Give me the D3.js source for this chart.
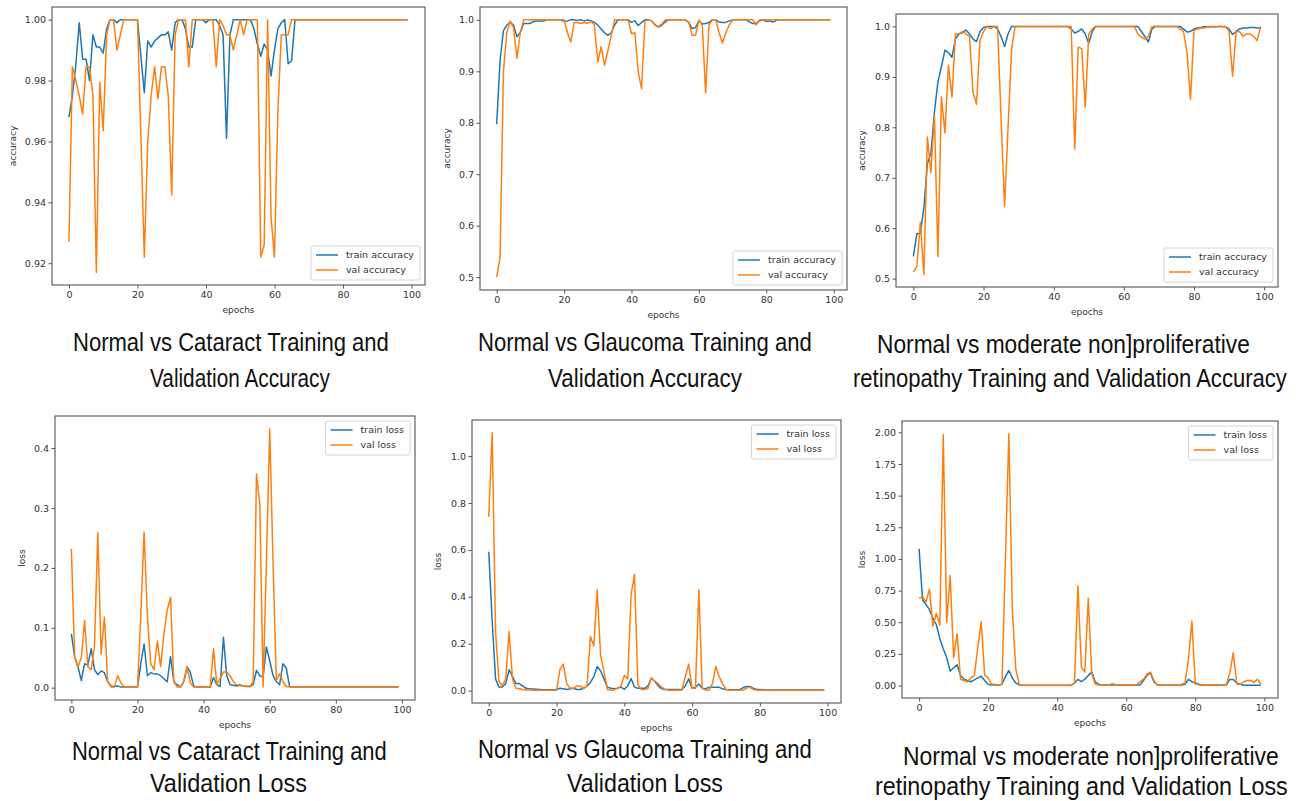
<!DOCTYPE html>
<html><head><meta charset="utf-8">
<script src="https://cdn.jsdelivr.net/npm/d3@7"></script>
<style>
body{margin:0;background:#fff;}
svg{display:block;}
</style></head><body>
<svg id="chart" width="1302" height="801"></svg>
<script>
// ---------------- data ----------------
const epochs = d3.range(0, 100);
const xTickValues = [0, 20, 40, 60, 80, 100];

const catAccTrain = [
0.968,0.975,0.985,0.999,0.987,0.987,0.980,0.995,0.991,0.991,
0.989,0.997,1.0,1.0,0.999,1.0,1.0,1.0,1.0,1.0,
1.0,0.988,0.976,0.993,0.991,0.993,0.994,0.995,0.995,0.996,
0.990,0.999,1.0,1.0,0.997,0.991,0.991,1.0,1.0,1.0,
0.999,1.0,1.0,1.0,0.998,0.995,0.961,0.995,1.0,1.0,
1.0,1.0,1.0,1.0,0.997,0.992,0.988,0.992,0.990,0.9815,
0.990,0.997,0.999,1.0,0.9855,0.9865,1.0,1.0,1.0,1.0,
1.0,1.0,1.0,1.0,1.0,1.0,1.0,1.0,1.0,1.0,
1.0,1.0,1.0,1.0,1.0,1.0,1.0,1.0,1.0,1.0,
1.0,1.0,1.0,1.0,1.0,1.0,1.0,1.0,1.0,1.0];
const catAccVal = [
0.927,0.9845,0.980,0.975,0.969,0.9845,0.9845,0.975,0.917,0.9795,
0.9635,0.995,1.0,1.0,0.990,0.995,1.0,1.0,1.0,1.0,
1.0,0.962,0.922,0.960,0.975,0.9845,0.974,0.9845,0.9845,0.975,
0.9425,0.995,1.0,1.0,1.0,0.9845,1.0,1.0,1.0,1.0,
1.0,1.0,1.0,0.9845,1.0,0.998,0.995,0.995,0.990,0.995,
1.0,0.995,1.0,1.0,1.0,1.0,0.922,0.926,1.0,0.935,
0.922,0.970,0.995,0.995,0.995,1.0,1.0,1.0,1.0,1.0,
1.0,1.0,1.0,1.0,1.0,1.0,1.0,1.0,1.0,1.0,
1.0,1.0,1.0,1.0,1.0,1.0,1.0,1.0,1.0,1.0,
1.0,1.0,1.0,1.0,1.0,1.0,1.0,1.0,1.0,1.0];

const glauAccTrain = [
0.797,0.921,0.979,0.990,0.995,0.990,0.967,0.975,0.993,0.993,
0.993,0.997,0.998,0.998,0.998,1.0,1.0,1.0,1.0,1.0,
0.997,0.998,1.0,1.0,0.999,1.0,0.998,1.0,0.998,0.995,
0.990,0.982,0.975,0.970,0.975,0.990,1.0,1.0,1.0,1.0,
0.995,0.998,0.989,0.995,1.0,1.0,0.998,0.990,0.986,0.990,
0.996,1.0,1.0,1.0,1.0,1.0,1.0,0.995,0.983,0.985,
0.998,0.992,0.993,0.995,1.0,1.0,0.996,0.995,0.995,0.998,
1.0,1.0,1.0,1.0,1.0,0.996,0.993,0.993,0.998,1.0,
0.997,0.998,0.996,0.999,1.0,1.0,1.0,1.0,1.0,1.0,
1.0,1.0,1.0,1.0,1.0,1.0,1.0,1.0,1.0,1.0];
const glauAccVal = [
0.500,0.538,0.899,0.975,0.998,0.985,0.925,0.975,1.0,1.0,
1.0,1.0,1.0,1.0,1.0,1.0,1.0,1.0,1.0,1.0,
1.0,0.975,0.957,0.995,0.995,0.993,0.995,0.993,0.997,0.990,
0.918,0.948,0.912,0.940,0.970,1.0,1.0,1.0,1.0,1.0,
0.973,0.975,0.899,0.866,0.998,1.0,0.998,0.990,0.987,0.992,
1.0,1.0,1.0,1.0,1.0,1.0,1.0,0.995,0.970,0.970,
1.0,0.990,0.858,0.990,1.0,1.0,0.975,0.955,0.975,0.990,
1.0,1.0,1.0,1.0,1.0,1.0,1.0,0.990,1.0,1.0,
1.0,1.0,1.0,1.0,1.0,1.0,1.0,1.0,1.0,1.0,
1.0,1.0,1.0,1.0,1.0,1.0,1.0,1.0,1.0,1.0];

const npdrAccTrain = [
0.544,0.589,0.590,0.640,0.728,0.748,0.830,0.890,0.920,0.953,
0.948,0.939,0.975,0.985,0.988,0.993,0.985,0.975,0.970,0.990,
0.998,1.0,1.0,1.0,0.995,0.980,0.960,0.985,1.0,1.0,
1.0,1.0,1.0,1.0,1.0,1.0,1.0,1.0,1.0,1.0,
1.0,1.0,1.0,1.0,1.0,0.995,0.987,0.990,0.995,0.985,
0.966,0.990,1.0,1.0,1.0,1.0,1.0,1.0,1.0,1.0,
1.0,1.0,1.0,1.0,1.0,0.990,0.980,0.969,0.995,1.0,
1.0,1.0,1.0,1.0,1.0,1.0,1.0,0.995,0.989,0.990,
0.995,0.997,0.998,1.0,0.999,1.0,0.999,1.0,1.0,0.999,
0.995,0.984,0.990,0.995,0.997,0.997,0.998,0.998,0.997,0.997];
const npdrAccVal = [
0.513,0.525,0.612,0.508,0.781,0.710,0.824,0.544,0.860,0.789,
0.923,0.860,0.985,0.985,0.990,0.985,0.980,0.870,0.8455,0.972,
0.990,1.0,0.995,1.0,1.0,0.820,0.643,0.800,0.955,1.0,
1.0,1.0,1.0,1.0,1.0,1.0,1.0,1.0,1.0,1.0,
1.0,1.0,1.0,1.0,1.0,1.0,0.757,0.959,0.956,0.840,
0.985,0.995,1.0,1.0,1.0,1.0,1.0,1.0,1.0,1.0,
1.0,1.0,1.0,1.0,0.985,0.979,0.975,0.980,1.0,1.0,
1.0,1.0,1.0,1.0,1.0,1.0,0.995,0.990,0.950,0.855,
0.992,0.995,0.997,0.997,1.0,1.0,1.0,1.0,1.0,1.0,
0.990,0.901,0.989,0.990,0.980,0.985,0.985,0.980,0.972,1.0];

const catLossTrain = [
0.090,0.051,0.035,0.012,0.040,0.038,0.065,0.030,0.022,0.028,
0.025,0.010,0.003,0.002,0.003,0.001,0.001,0.001,0.001,0.001,
0.001,0.040,0.073,0.020,0.025,0.023,0.023,0.020,0.015,0.010,
0.052,0.010,0.005,0.001,0.010,0.035,0.025,0.003,0.001,0.001,
0.001,0.001,0.001,0.017,0.005,0.002,0.084,0.020,0.005,0.004,
0.003,0.004,0.003,0.002,0.002,0.005,0.029,0.020,0.018,0.068,
0.045,0.020,0.010,0.005,0.040,0.033,0.002,0.001,0.001,0.001,
0.001,0.001,0.001,0.001,0.001,0.001,0.001,0.001,0.001,0.001,
0.001,0.001,0.001,0.001,0.001,0.001,0.001,0.001,0.001,0.001,
0.001,0.001,0.001,0.001,0.001,0.001,0.001,0.001,0.001,0.001];
const catLossVal = [
0.232,0.051,0.035,0.050,0.112,0.035,0.030,0.070,0.259,0.056,
0.118,0.010,0.001,0.001,0.020,0.008,0.001,0.001,0.001,0.001,
0.001,0.120,0.260,0.120,0.040,0.030,0.078,0.035,0.090,0.130,
0.151,0.010,0.001,0.001,0.010,0.034,0.008,0.001,0.001,0.001,
0.001,0.001,0.001,0.065,0.005,0.015,0.026,0.026,0.020,0.010,
0.005,0.005,0.003,0.003,0.002,0.010,0.357,0.307,0.001,0.210,
0.432,0.210,0.012,0.023,0.010,0.002,0.001,0.001,0.001,0.001,
0.001,0.001,0.001,0.001,0.001,0.001,0.001,0.001,0.001,0.001,
0.001,0.001,0.001,0.001,0.001,0.001,0.001,0.001,0.001,0.001,
0.001,0.001,0.001,0.001,0.001,0.001,0.001,0.001,0.001,0.001];

const glauLossTrain = [
0.592,0.300,0.050,0.015,0.015,0.030,0.089,0.060,0.030,0.030,
0.020,0.010,0.008,0.007,0.006,0.005,0.004,0.004,0.004,0.004,
0.004,0.010,0.008,0.005,0.008,0.010,0.005,0.005,0.010,0.020,
0.035,0.060,0.103,0.085,0.050,0.015,0.010,0.008,0.010,0.015,
0.005,0.020,0.051,0.015,0.010,0.010,0.010,0.020,0.054,0.040,
0.020,0.008,0.005,0.005,0.005,0.005,0.005,0.005,0.020,0.050,
0.010,0.015,0.028,0.010,0.008,0.014,0.014,0.014,0.014,0.008,
0.005,0.004,0.004,0.004,0.004,0.012,0.018,0.018,0.010,0.005,
0.005,0.004,0.003,0.003,0.003,0.003,0.003,0.003,0.003,0.003,
0.003,0.003,0.003,0.003,0.003,0.003,0.003,0.003,0.003,0.003];
const glauLossVal = [
0.741,1.099,0.252,0.040,0.020,0.050,0.252,0.050,0.010,0.008,
0.005,0.003,0.003,0.002,0.002,0.002,0.002,0.002,0.002,0.002,
0.002,0.090,0.113,0.030,0.010,0.010,0.020,0.020,0.010,0.020,
0.231,0.190,0.429,0.150,0.080,0.005,0.002,0.003,0.010,0.020,
0.065,0.050,0.408,0.496,0.025,0.005,0.005,0.010,0.054,0.040,
0.030,0.015,0.005,0.002,0.002,0.002,0.002,0.002,0.060,0.113,
0.010,0.010,0.430,0.010,0.002,0.002,0.030,0.103,0.060,0.030,
0.005,0.002,0.002,0.002,0.002,0.002,0.010,0.015,0.005,0.002,
0.002,0.002,0.002,0.002,0.002,0.002,0.002,0.002,0.002,0.002,
0.002,0.002,0.002,0.002,0.002,0.002,0.002,0.002,0.002,0.002];

const npdrLossTrain = [
1.080,0.675,0.640,0.600,0.530,0.480,0.370,0.290,0.220,0.114,
0.140,0.164,0.080,0.050,0.040,0.030,0.045,0.060,0.074,0.040,
0.010,0.005,0.005,0.005,0.010,0.070,0.119,0.060,0.020,0.005,
0.002,0.002,0.002,0.002,0.002,0.002,0.002,0.002,0.002,0.002,
0.002,0.002,0.002,0.002,0.002,0.020,0.048,0.030,0.050,0.080,
0.106,0.030,0.010,0.005,0.005,0.005,0.005,0.005,0.005,0.005,
0.005,0.005,0.005,0.005,0.005,0.040,0.080,0.100,0.030,0.005,
0.005,0.005,0.005,0.005,0.005,0.005,0.005,0.010,0.048,0.030,
0.020,0.010,0.005,0.005,0.005,0.005,0.005,0.005,0.005,0.005,
0.048,0.048,0.020,0.010,0.002,0.002,0.002,0.002,0.002,0.002];
const npdrLossVal = [
0.689,0.700,0.660,0.760,0.469,0.570,0.477,1.980,0.498,0.869,
0.220,0.410,0.050,0.040,0.030,0.060,0.080,0.300,0.503,0.080,
0.060,0.010,0.010,0.005,0.010,1.000,1.990,0.600,0.130,0.010,
0.001,0.001,0.001,0.001,0.001,0.001,0.001,0.001,0.001,0.001,
0.001,0.001,0.001,0.001,0.001,0.020,0.787,0.146,0.106,0.689,
0.093,0.010,0.005,0.005,0.005,0.005,0.015,0.005,0.005,0.005,
0.005,0.005,0.005,0.005,0.030,0.050,0.090,0.106,0.040,0.003,
0.003,0.003,0.003,0.003,0.003,0.003,0.010,0.020,0.200,0.509,
0.013,0.005,0.005,0.005,0.005,0.005,0.005,0.005,0.005,0.010,
0.100,0.260,0.013,0.010,0.030,0.040,0.040,0.025,0.050,0.010];

const yTicksCatAcc  = [0.92, 0.94, 0.96, 0.98, 1.00];
const yTicksGlauAcc = [0.5, 0.6, 0.7, 0.8, 0.9, 1.0];
const yTicksNpdrAcc = [0.5, 0.6, 0.7, 0.8, 0.9, 1.0];
const yTicksCatLoss = [0.0, 0.1, 0.2, 0.3, 0.4];
const yTicksGlauLoss = [0.0, 0.2, 0.4, 0.6, 0.8, 1.0];
const yTicksNpdrLoss = [0.00, 0.25, 0.50, 0.75, 1.00, 1.25, 1.50, 1.75, 2.00];

const accLegend = ["train accuracy", "val accuracy"];
const lossLegend = ["train loss", "val loss"];

const captionCatAcc = ["Normal vs Cataract Training and", "Validation Accuracy"];
const captionGlauAcc = ["Normal vs Glaucoma Training and", "Validation Accuracy"];
const captionNpdrAcc = ["Normal vs moderate non]proliferative", "retinopathy Training and Validation Accuracy"];
const captionCatLoss = ["Normal vs Cataract Training and", "Validation Loss"];
const captionGlauLoss = ["Normal vs Glaucoma Training and", "Validation Loss"];
const captionNpdrLoss = ["Normal vs moderate non]proliferative", "retinopathy Training and Validation Loss"];

// ---------------- layout ----------------
const COLORS = {train: "#1f77b4", val: "#ff7f0e"};
const panels = [
  {train: catAccTrain, val: catAccVal, yTicks: yTicksCatAcc, fmt: ".2f", ylabel: "accuracy",
   legend: accLegend, legendLoc: "lower", box: {l: 52, r: 425, t: 7, b: 285}, ylabelX: 13,
   caption: captionCatAcc, cap: [[73, 351, 316], [150, 387, 180]]},
  {train: glauAccTrain, val: glauAccVal, yTicks: yTicksGlauAcc, fmt: ".1f", ylabel: "accuracy",
   legend: accLegend, legendLoc: "lower", box: {l: 480, r: 847, t: 7, b: 290}, ylabelX: 447,
   caption: captionGlauAcc, cap: [[478, 351, 334], [548, 387, 194]]},
  {train: npdrAccTrain, val: npdrAccVal, yTicks: yTicksNpdrAcc, fmt: ".1f", ylabel: "accuracy",
   legend: accLegend, legendLoc: "lower", box: {l: 896, r: 1278, t: 14, b: 287}, ylabelX: 862,
   caption: captionNpdrAcc, cap: [[877, 353, 373], [853, 387, 434]]},
  {train: catLossTrain, val: catLossVal, yTicks: yTicksCatLoss, fmt: ".1f", ylabel: "loss",
   legend: lossLegend, legendLoc: "upper", box: {l: 55, r: 415, t: 416, b: 700}, ylabelX: 22,
   caption: captionCatLoss, cap: [[72, 760, 315], [150, 792, 157]]},
  {train: glauLossTrain, val: glauLossVal, yTicks: yTicksGlauLoss, fmt: ".1f", ylabel: "loss",
   legend: lossLegend, legendLoc: "upper", box: {l: 472, r: 841, t: 420, b: 703}, ylabelX: 438,
   caption: captionGlauLoss, cap: [[478, 758, 334], [567, 792, 156]]},
  {train: npdrLossTrain, val: npdrLossVal, yTicks: yTicksNpdrLoss, fmt: ".2f", ylabel: "loss",
   legend: lossLegend, legendLoc: "upper", box: {l: 902, r: 1278, t: 421, b: 698}, ylabelX: 862,
   caption: captionNpdrLoss, cap: [[903, 765, 376], [875, 795, 413]]}
];

const svg = d3.select("#chart");
const TICKFONT = "'DejaVu Sans', sans-serif";
const CAPFONT = "'Liberation Sans Narrow', 'Arial Narrow', 'Liberation Sans', sans-serif";

function drawPanel(p) {
  const g = svg.append("g");
  const b = p.box;
  const xLo = d3.min(epochs), xHi = d3.max(epochs), xPad = (xHi - xLo) * 0.05;
  const x = d3.scaleLinear().domain([xLo - xPad, xHi + xPad]).range([b.l, b.r]);
  const all = p.train.concat(p.val);
  const lo = d3.min(all), hi = d3.max(all), pad = (hi - lo) * 0.05;
  const y = d3.scaleLinear().domain([lo - pad, hi + pad]).range([b.b, b.t]);

  const xAxis = g.append("g").attr("transform", `translate(0,${b.b})`)
    .call(d3.axisBottom(x).tickValues(xTickValues).tickSize(3.5).tickPadding(2.5).tickFormat(d3.format("d")));
  const yAxis = g.append("g").attr("transform", `translate(${b.l},0)`)
    .call(d3.axisLeft(y).tickValues(p.yTicks).tickSize(3.5).tickPadding(2.5).tickFormat(d3.format(p.fmt)));
  [xAxis, yAxis].forEach(a => {
    a.select(".domain").remove();
    a.selectAll(".tick line").attr("stroke", "#555").attr("stroke-width", 1);
    a.selectAll(".tick text").attr("fill", "#333").style("font-family", TICKFONT).style("font-size", "9.5px");
  });

  const line = d3.line().x((d, i) => x(epochs[i])).y(d => y(d));
  g.append("path").datum(p.train).attr("d", line).attr("fill", "none")
    .attr("stroke", COLORS.train).attr("stroke-width", 1.5).attr("stroke-linejoin", "round");
  g.append("path").datum(p.val).attr("d", line).attr("fill", "none")
    .attr("stroke", COLORS.val).attr("stroke-width", 1.5).attr("stroke-linejoin", "round");

  g.append("rect").attr("x", b.l).attr("y", b.t).attr("width", b.r - b.l).attr("height", b.b - b.t)
    .attr("fill", "none").attr("stroke", "#555").attr("stroke-width", 1.1);

  // axis labels
  g.append("text").text("epochs").attr("x", (b.l + b.r) / 2).attr("y", b.b + 28)
    .attr("text-anchor", "middle").attr("fill", "#333").style("font-family", TICKFONT).style("font-size", "9px");
  g.append("text").text(p.ylabel)
    .attr("transform", `translate(${p.ylabelX},${(b.t + b.b) / 2}) rotate(-90)`)
    .attr("text-anchor", "middle").attr("dy", "0.35em").attr("fill", "#333")
    .style("font-family", TICKFONT).style("font-size", "9px");

  // legend
  const lg = g.append("g");
  const texts = p.legend.map((t, i) => lg.append("text").text(t).attr("x", 0).attr("y", 0)
    .attr("fill", "#333").style("font-family", TICKFONT).style("font-size", "9.5px"));
  const tw = d3.max(texts, t => t.node().getComputedTextLength());
  const lw = 5 + 22 + 8 + tw + 6, lh = 34;
  const lx = b.r - 5 - lw;
  const ly = p.legendLoc === "upper" ? b.t + 5 : b.b - 5 - lh;
  lg.insert("rect", "text").attr("x", lx).attr("y", ly).attr("width", lw).attr("height", lh)
    .attr("rx", 2).attr("fill", "#fff").attr("fill-opacity", 0.8).attr("stroke", "#d6d6d6");
  [COLORS.train, COLORS.val].forEach((c, i) => {
    const cy = ly + 9 + i * 15;
    lg.append("line").attr("x1", lx + 5).attr("x2", lx + 27).attr("y1", cy).attr("y2", cy)
      .attr("stroke", c).attr("stroke-width", 1.5);
    texts[i].attr("x", lx + 35).attr("y", cy).attr("dy", "0.35em");
  });

  // caption: natural text, horizontally scaled to the reference width
  p.caption.forEach((t, i) => {
    const c = p.cap[i];
    const txt = svg.append("text").text(t).attr("x", 0).attr("y", 0)
      .attr("fill", "#111").style("font-family", CAPFONT).style("font-size", "25px");
    const natural = txt.node().getComputedTextLength();
    txt.attr("transform", `translate(${c[0]},${c[1]}) scale(${c[2] / natural},1)`);
  });
}

panels.forEach(drawPanel);
</script>
</body></html>
